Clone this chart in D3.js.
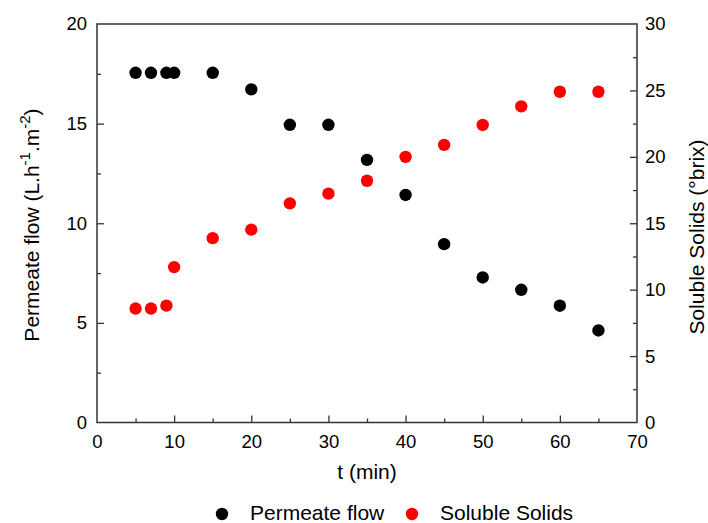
<!DOCTYPE html>
<html><head><meta charset="utf-8">
<script src="https://cdn.jsdelivr.net/npm/d3@7"></script>
<style>body{margin:0;background:#fff}svg{display:block}text{font-family:"Liberation Sans",Arial,sans-serif;fill:#000}</style>
</head><body>
<script>
const times = [5,7,9,10,15,20,25,30,35,40,45,50,55,60,65];
const permeateFlow = [17.55,17.55,17.55,17.55,17.55,16.72,14.94,14.94,13.18,11.42,8.95,7.28,6.66,5.86,4.62];
const solubleSolids = [8.58,8.58,8.80,11.70,13.88,14.52,16.50,17.23,18.20,20.00,20.90,22.40,23.80,24.90,24.90];
const xTicks = [0,10,20,30,40,50,60,70];
const yLeftTicks = [0,5,10,15,20];
const yRightTicks = [0,5,10,15,20,25,30];

const W=708,H=523;
const m={l:97,r:637,t:24,b:422.5};
const svg=d3.select("body").append("svg").attr("width",W).attr("height",H);
const x=d3.scaleLinear().domain([0,70]).range([m.l,m.r]);
const yL=d3.scaleLinear().domain([0,20]).range([m.b,m.t]);
const yR=d3.scaleLinear().domain([0,30]).range([m.b,m.t]);
const axCol="#333";

function styleAxis(g){g.select(".domain").remove();g.selectAll("line").attr("stroke",axCol).attr("stroke-width",1.3);g.selectAll("text").attr("font-size","18.5px").attr("fill","#000");}

const gx=svg.append("g").attr("transform",`translate(0,${m.b})`)
  .call(d3.axisTop(x).tickValues(d3.range(5,70,10)).tickSize(4).tickFormat(""));
styleAxis(gx);
const gx2=svg.append("g").attr("transform",`translate(0,${m.b})`)
  .call(d3.axisBottom(x).tickValues(xTicks).tickSize(0).tickPadding(12).tickFormat(d3.format("d")));
styleAxis(gx2);
const gx3=svg.append("g").attr("transform",`translate(0,${m.b})`)
  .call(d3.axisTop(x).tickValues(xTicks.slice(1,-1)).tickSize(7).tickFormat(""));
styleAxis(gx3);

const gl=svg.append("g").attr("transform",`translate(${m.l},0)`)
  .call(d3.axisRight(yL).tickValues(d3.range(2.5,20,5)).tickSize(4).tickFormat(""));
styleAxis(gl);
const gl2=svg.append("g").attr("transform",`translate(${m.l},0)`)
  .call(d3.axisRight(yL).tickValues(yLeftTicks.slice(1,-1)).tickSize(7).tickFormat(""));
styleAxis(gl2);
const gl3=svg.append("g").attr("transform",`translate(${m.l},0)`)
  .call(d3.axisLeft(yL).tickValues(yLeftTicks).tickSize(0).tickPadding(10).tickFormat(d3.format("d")));
styleAxis(gl3);

const gr=svg.append("g").attr("transform",`translate(${m.r},0)`)
  .call(d3.axisLeft(yR).tickValues(d3.range(2.5,30,5)).tickSize(4).tickFormat(""));
styleAxis(gr);
const gr2=svg.append("g").attr("transform",`translate(${m.r},0)`)
  .call(d3.axisLeft(yR).tickValues(yRightTicks.slice(1,-1)).tickSize(7).tickFormat(""));
styleAxis(gr2);
const gr3=svg.append("g").attr("transform",`translate(${m.r},0)`)
  .call(d3.axisRight(yR).tickValues(yRightTicks).tickSize(0).tickPadding(8).tickFormat(d3.format("d")));
styleAxis(gr3);

svg.append("rect").attr("x",m.l).attr("y",m.t).attr("width",m.r-m.l).attr("height",m.b-m.t)
  .attr("fill","none").attr("stroke",axCol).attr("stroke-width",1.5);

svg.append("g").selectAll("circle").data(times).join("circle")
  .attr("cx",d=>x(d)).attr("cy",(d,i)=>yL(permeateFlow[i])).attr("r",6.2).attr("fill","#000");
svg.append("g").selectAll("circle").data(times).join("circle")
  .attr("cx",d=>x(d)).attr("cy",(d,i)=>yR(solubleSolids[i])).attr("r",6.2).attr("fill","#ff0000");

svg.append("text").attr("x",(m.l+m.r)/2).attr("y",479).attr("text-anchor","middle").attr("font-size","21px").text("t (min)");
const lt=svg.append("text").attr("transform","translate(39,225) rotate(-90)").attr("text-anchor","middle").attr("font-size","21px");
lt.append("tspan").text("Permeate flow (L.h");
lt.append("tspan").attr("dy",-9).attr("font-size","15px").text("-1");
lt.append("tspan").attr("dy",9).text(".m");
lt.append("tspan").attr("dy",-9).attr("font-size","15px").text("-2");
lt.append("tspan").attr("dy",9).text(")");
svg.append("text").attr("transform","translate(704,237) rotate(-90)").attr("text-anchor","middle").attr("font-size","21px").text("Soluble Solids (°brix)");

const leg=[{n:"Permeate flow",c:"#000",cx:222,tx:250},{n:"Soluble Solids",c:"#ff0000",cx:412,tx:440}];
leg.forEach(d=>{
  svg.append("circle").attr("cx",d.cx).attr("cy",514).attr("r",6.2).attr("fill",d.c);
  svg.append("text").attr("x",d.tx).attr("y",520).attr("font-size","21px").text(d.n);
});
</script>
</body></html>
